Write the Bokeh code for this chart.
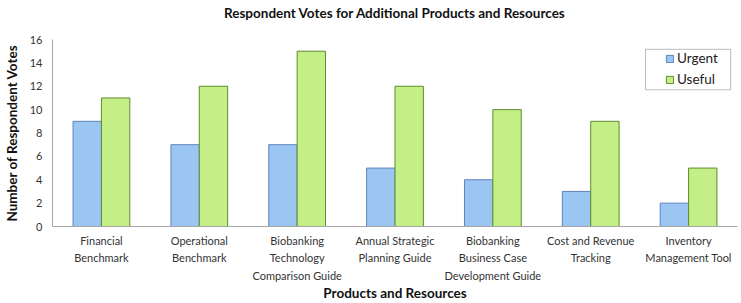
from bokeh.plotting import figure
from bokeh.models import FactorRange, Range1d, FixedTicker, Legend, LegendItem, BoxAnnotation, ColumnDataSource, LinearAxis
from bokeh.transform import dodge
from bokeh.embed import file_html
from bokeh.resources import INLINE

title_text = "Respondent Votes for Additional Products and Resources"
categories = ["Financial\nBenchmark", "Operational\nBenchmark",
              "Biobanking\nTechnology\nComparison Guide",
              "Annual Strategic\nPlanning Guide",
              "Biobanking\nBusiness Case\nDevelopment Guide",
              "Cost and Revenue\nTracking",
              "Inventory\nManagement Tool"]
urgent = [9, 7, 7, 5, 4, 3, 2]
useful = [11, 12, 15, 12, 10, 9, 5]
y_ticks = [0, 2, 4, 6, 8, 10, 12, 14, 16]

FONT = "Lato"

src = ColumnDataSource(data=dict(cat=categories, urgent=urgent, useful=useful))

p = figure(x_range=FactorRange(factors=categories, range_padding=0),
           y_range=Range1d(0, 16),
           width=741, height=303, output_backend="svg", toolbar_location=None,
           min_border_left=44, min_border_right=4, min_border_top=39, min_border_bottom=74,
           title=title_text)

r1 = p.vbar(x=dodge("cat", -0.145, range=p.x_range), top="urgent", width=0.29, source=src,
            fill_color="#9bc6f2", line_color="#5f82c0", line_width=1)
r2 = p.vbar(x=dodge("cat", 0.145, range=p.x_range), top="useful", width=0.29, source=src,
            fill_color="#c4ee86", line_color="#5e8c2e", line_width=1)

xax = p.below[0]
yax = p.left[0]

# empty spacer band between the title and the plot area (invisible tick, no label)
spacer = LinearAxis(ticker=FixedTicker(ticks=[3.5]), axis_line_color=None,
                    major_tick_line_color=None, minor_tick_line_color=None,
                    major_tick_out=18, major_tick_in=0, minor_tick_out=0,
                    major_label_standoff=0, major_label_text_font_size="1px",
                    major_label_overrides={3.5: ""})
p.add_layout(spacer, "above")

p.title.align = "center"
p.title.vertical_align = "bottom"
p.title.standoff = 2
p.title.text_font = FONT
p.title.text_font_size = "13.5px"
p.title.text_font_style = "bold"
p.title.text_color = "#111111"

p.outline_line_color = None
p.xgrid.grid_line_color = None
p.ygrid.grid_line_color = None
p.background_fill_color = "white"
p.border_fill_color = "white"

for ax in (xax, yax):
    ax.axis_line_color = "#a6a6a6"
    ax.major_tick_line_color = None
    ax.minor_tick_line_color = None
    ax.major_tick_out = 0
    ax.major_tick_in = 0
    ax.major_label_text_font = FONT
    ax.major_label_text_color = "#333333"
    ax.axis_label_text_font = FONT
    ax.axis_label_text_font_style = "bold"
    ax.axis_label_text_font_size = "13.5px"
    ax.axis_label_text_color = "#111111"

yax.ticker = FixedTicker(ticks=y_ticks)
yax.major_label_text_font_size = "11px"
yax.major_label_standoff = 10
yax.axis_label = "Number of Respondent Votes"
yax.axis_label_standoff = 7

xax.major_label_text_font_size = "11px"
xax.major_label_text_line_height = 1.35
xax.major_label_standoff = 7
xax.axis_label = "Products and Resources"
xax.axis_label_standoff = 0

box = BoxAnnotation(left=6.06, right=6.93, top=15.16, bottom=11.7,
                    fill_color="white", fill_alpha=1.0,
                    line_color="#222222", line_width=1, level="overlay")
p.add_layout(box)

legend = Legend(items=[LegendItem(label="Urgent", renderers=[r1]),
                       LegendItem(label="Useful", renderers=[r2])],
                location=(613, 139), orientation="vertical",
                border_line_color=None, background_fill_alpha=0,
                padding=3, spacing=5, label_height=15, glyph_height=9, glyph_width=9,
                label_standoff=3, label_text_font=FONT, label_text_font_size="13.5px",
                label_text_color="#222222", margin=0)
p.add_layout(legend)

open("out.html", "w").write(file_html(p, INLINE))
